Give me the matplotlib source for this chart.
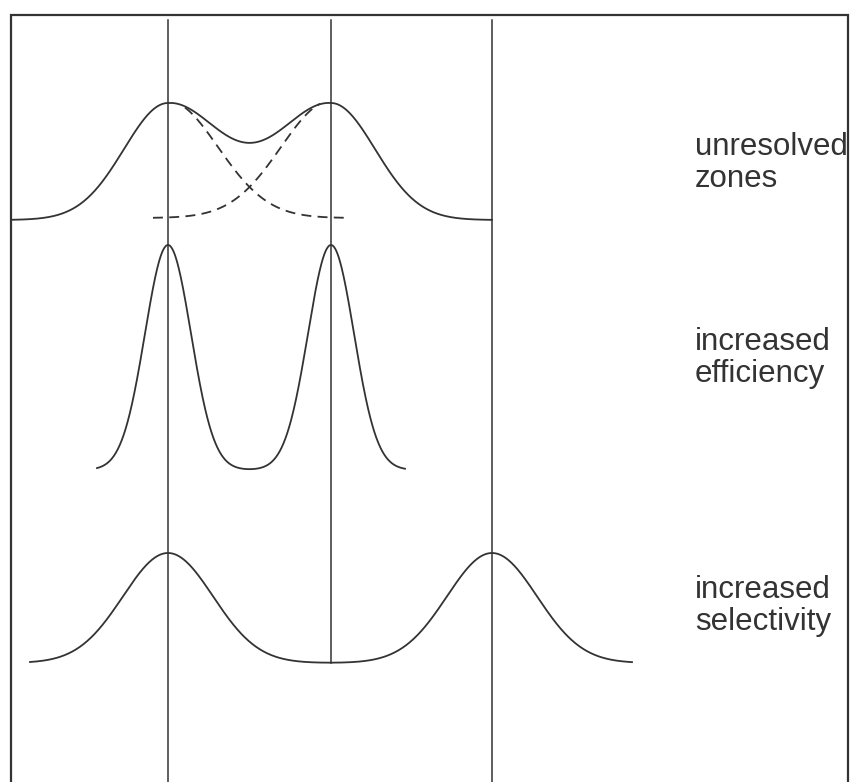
# Schematic: resolution of two zones - unresolved vs. higher efficiency vs. higher selectivity
# Coordinates are in image pixels (y grows downward) so the sketch lines up with the original.

import numpy as np
import matplotlib.pyplot as plt

W, H = 851, 782
INK = "#333333"

# retention positions of the zones (vertical guide lines)
GUIDE_X = [168, 331, 492]

# row 1: unresolved zones
TOP_CENTERS = [168, 331]
TOP_BASE = 220
TOP_HEIGHT = 117
TOP_SIGMA_OUT = 44      # outer flanks
TOP_SIGMA_IN = 55       # overlap between the peaks
TOP_RANGE = [11, 492]
DASH_SIGMA = 50
DASH_RANGES = [[185, 345], [153, 320]]

# row 2: increased efficiency (narrow peaks)
MID_CENTERS = [168, 331]
MID_BASE = 470
MID_HEIGHT = 225
MID_SIGMA = 23
MID_RANGE = [97, 405]

# row 3: increased selectivity (peaks further apart)
BOT_CENTERS = [168, 492]
BOT_BASE = 663
BOT_HEIGHT = 110
BOT_SIGMA = 45
BOT_RANGE = [30, 632]

LABELS = ["unresolved\nzones", "increased\nefficiency", "increased\nselectivity"]
LABEL_Y = [187, 382, 630]   # baseline of the last line
LABEL_X = 695


def gauss(x, c, s):
    return np.exp(-(x - c) ** 2 / (2 * s ** 2))


def peaks(x, centers, s):
    return sum(gauss(x, c, s) for c in centers)


fig = plt.figure(figsize=(W / 100, H / 100), dpi=100)
ax = fig.add_axes([0, 0, 1, 1])
ax.set_xlim(0, W)
ax.set_ylim(H, 0)
ax.axis("off")

# frame (bottom edge is cut off in the original)
ax.plot([11, 11, 848, 848], [H + 5, 15, 15, H + 5], color=INK, lw=1.6,
        solid_joinstyle="miter", clip_on=False)

# --- top row ---
c1, c2 = TOP_CENTERS
x = np.linspace(TOP_RANGE[0], TOP_RANGE[1], 800)
inner = peaks(x, TOP_CENTERS, TOP_SIGMA_IN) / (1 + gauss(c2, c1, TOP_SIGMA_IN))
y = np.where(x < c1, gauss(x, c1, TOP_SIGMA_OUT),
             np.where(x > c2, gauss(x, c2, TOP_SIGMA_OUT), inner))
ax.plot(x, TOP_BASE - TOP_HEIGHT * y, color=INK, lw=1.3)

for c, (x0, x1) in zip(TOP_CENTERS, DASH_RANGES):
    xd = np.linspace(x0, x1, 300)
    ax.plot(xd, TOP_BASE - 2 - TOP_HEIGHT * gauss(xd, c, DASH_SIGMA),
            color=INK, lw=1.3, dashes=(5.5, 3.5))

# --- middle row ---
x = np.linspace(MID_RANGE[0], MID_RANGE[1], 800)
ax.plot(x, MID_BASE - MID_HEIGHT * peaks(x, MID_CENTERS, MID_SIGMA), color=INK, lw=1.3)

# --- bottom row ---
x = np.linspace(BOT_RANGE[0], BOT_RANGE[1], 800)
bot = BOT_BASE - BOT_HEIGHT * peaks(x, BOT_CENTERS, BOT_SIGMA)
ax.plot(x, bot, color=INK, lw=1.3)

# guide lines; the middle one stops on the bottom curve
for gx in GUIDE_X:
    if gx in BOT_CENTERS:
        y_end = H + 5
    else:
        y_end = BOT_BASE - BOT_HEIGHT * peaks(np.array([gx]), BOT_CENTERS, BOT_SIGMA)[0]
    ax.plot([gx, gx], [20, y_end], color=INK, lw=1.1, clip_on=False)

for label, ly in zip(LABELS, LABEL_Y):
    ax.text(LABEL_X, ly, label, fontsize=22.5, family="Liberation Sans", color=INK,
            ha="left", va="baseline", linespacing=1.1)

fig.savefig("out.png", dpi=100)
